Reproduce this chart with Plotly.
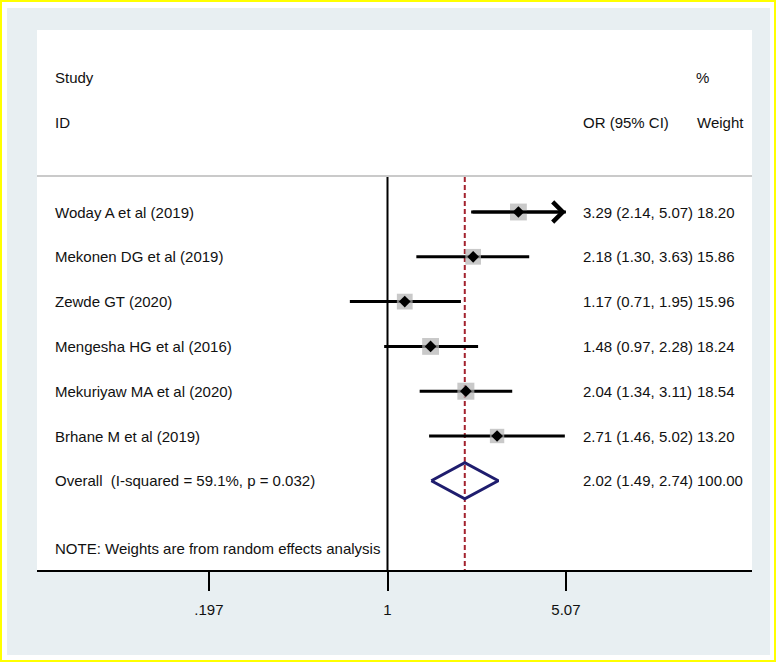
import math
import plotly.graph_objects as go

# ---------------- data ----------------
studies = ["Woday A et al (2019)", "Mekonen DG et al (2019)", "Zewde GT (2020)",
           "Mengesha HG et al (2016)", "Mekuriyaw MA et al (2020)", "Brhane M et al (2019)"]
or_vals = [3.29, 2.18, 1.17, 1.48, 2.04, 2.71]
ci_lo = [2.14, 1.30, 0.71, 0.97, 1.34, 1.46]
ci_hi = [5.07, 3.63, 1.95, 2.28, 3.11, 5.02]
weights = [18.20, 15.86, 15.96, 18.24, 18.54, 13.20]

overall_label = "Overall  (I-squared = 59.1%, p = 0.032)"
overall_or = 2.02
overall_lo = 1.49
overall_hi = 2.74
overall_weight = 100.00

tick_vals = [0.197, 1, 5.07]
tick_text = [".197", "1", "5.07"]
note_text = "NOTE: Weights are from random effects analysis"

# ---------------- layout helpers ----------------
W, H = 777, 663
ML, MR, MT, MB = 37, 25, 30, 93
PW, PH = W - ML - MR, H - MT - MB

def px(x):
    return (x - ML) / PW

def py(y):
    return (H - MB - y) / PH

ROW0_PX = 212.0
ROW_STEP = 44.8
def row_of(ypx):
    return 1 + (ypx - ROW0_PX) / ROW_STEP

y_top = row_of(MT)
y_bot = row_of(H - MB)

# x range (log10) from the pixel position of 1 and px per decade
x_one = 387.5
px_dec = 253.1
x_range = [(ML - x_one) / px_dec, (W - MR - x_one) / px_dec]

FONT = "Liberation Sans, Arial, Helvetica, sans-serif"
TXT = "#111111"
FS = 15

fig = go.Figure()

n = len(studies)
rows = list(range(1, n + 1))
overall_row = n + 1
sep_row = row_of(176)
line_top = row_of(177)

# null line and overall line
fig.add_trace(go.Scatter(x=[1, 1], y=[line_top, y_bot], mode="lines",
                         line=dict(color="black", width=2), hoverinfo="skip"))
fig.add_trace(go.Scatter(x=[overall_or, overall_or], y=[line_top, y_bot], mode="lines",
                         line=dict(color="#a3222e", width=2, dash="5px,3px"), hoverinfo="skip"))

# CI lines
for i in range(n):
    fig.add_trace(go.Scatter(x=[ci_lo[i], ci_hi[i]], y=[rows[i], rows[i]], mode="lines",
                             line=dict(color="black", width=3), hoverinfo="skip"))

# weight boxes
fig.add_trace(go.Scatter(x=or_vals, y=rows, mode="markers",
                         marker=dict(symbol="square", color="#b2b2b2",
                                     size=[3.95 * math.sqrt(w) for w in weights],
                                     line=dict(width=0)),
                         hoverinfo="skip"))
# point estimates
fig.add_trace(go.Scatter(x=or_vals, y=rows, mode="markers",
                         marker=dict(symbol="diamond", color="black", size=9, line=dict(width=0)),
                         hoverinfo="skip"))

# overall diamond
dh = 18 / ROW_STEP
fig.add_trace(go.Scatter(x=[overall_lo, overall_or, overall_hi, overall_or, overall_lo],
                         y=[overall_row, overall_row - dh, overall_row, overall_row + dh, overall_row],
                         mode="lines", line=dict(color="#1f1d6e", width=3), hoverinfo="skip"))

annotations = []
# arrows for CIs reaching the axis limit
for i in range(n):
    if ci_hi[i] >= max(tick_vals):
        annotations.append(dict(x=math.log10(ci_hi[i]), y=rows[i], ax=math.log10(ci_lo[i]), ay=rows[i],
                                xref="x", yref="y", axref="x", ayref="y", text="",
                                showarrow=True, arrowhead=4, arrowwidth=3, arrowsize=1.3,
                                arrowcolor="black", standoff=0))

def txt(x_pix, row, s):
    annotations.append(dict(x=px(x_pix - 2), y=row, xref="paper", yref="y", text=s,
                            showarrow=False, xanchor="left", yanchor="middle",
                            font=dict(family=FONT, size=FS, color=TXT)))

txt(55, -2, "Study")
txt(55, -1, "ID")
txt(583, -1, "OR (95% CI)")
txt(696, -2, "%")
txt(697, -1, "Weight")

for i in range(n):
    txt(55, rows[i], studies[i])
    txt(583, rows[i], f"{or_vals[i]:.2f} ({ci_lo[i]:.2f}, {ci_hi[i]:.2f})")
    txt(697, rows[i], f"{weights[i]:.2f}")

txt(55, overall_row, overall_label)
txt(583, overall_row, f"{overall_or:.2f} ({overall_lo:.2f}, {overall_hi:.2f})")
txt(697, overall_row, f"{overall_weight:.2f}")
txt(55, row_of(548), note_text)

shapes = [
    # outer yellow border
    dict(type="rect", xref="paper", yref="paper", x0=px(1), x1=px(775), y0=py(1), y1=py(661),
         line=dict(color="#ffff00", width=2), fillcolor="white", layer="below"),
    # grey background
    dict(type="rect", xref="paper", yref="paper", x0=px(7), x1=px(770), y0=py(8), y1=py(655),
         line=dict(width=0), fillcolor="#e8eff2", layer="below"),
    # white plot region
    dict(type="rect", xref="paper", yref="paper", x0=0, x1=1, y0=0, y1=1,
         line=dict(width=0), fillcolor="white", layer="below"),
    # header separator
    dict(type="line", xref="paper", yref="y", x0=0, x1=1, y0=sep_row, y1=sep_row,
         line=dict(color="#b8b8b8", width=1.5)),
]

fig.update_layout(
    width=W, height=H,
    margin=dict(l=ML, r=MR, t=MT, b=MB, pad=0),
    paper_bgcolor="white", plot_bgcolor="rgba(0,0,0,0)",
    showlegend=False,
    xaxis=dict(type="log", range=x_range, showgrid=False, zeroline=False,
               showline=True, linecolor="black", linewidth=2,
               ticks="outside", ticklen=19, tickwidth=2, tickcolor="black",
               tickvals=tick_vals, ticktext=tick_text, ticklabelstandoff=6,
               tickfont=dict(family=FONT, size=FS, color=TXT), fixedrange=True),
    yaxis=dict(range=[y_bot, y_top], visible=False, showgrid=False, zeroline=False, fixedrange=True),
    annotations=annotations,
    shapes=shapes,
)

fig.write_html("out.html", config={"displayModeBar": False},
               post_script="document.body.style.margin='0';document.body.style.padding='0';")
